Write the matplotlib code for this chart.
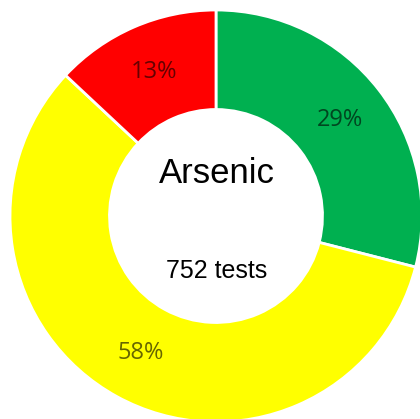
import matplotlib
matplotlib.use("Agg")
import matplotlib.pyplot as plt

# data
labels = ["Pass", "Warning", "Fail"]
counts = [218, 436, 98]
colors = ["#00B050", "#FFFF00", "#FF0000"]
title = "Arsenic"
total_label = "752 tests"

fig = plt.figure(figsize=(4.2, 4.19), dpi=100)
ax = fig.add_axes([0, 0, 1, 1])

wedges, texts, autotexts = ax.pie(
    counts, colors=colors, startangle=90, counterclock=False,
    radius=1.0, autopct="%1.0f%%", pctdistance=0.76,
    wedgeprops=dict(width=0.483, edgecolor="white", linewidth=2),
    textprops=dict(fontsize=17, family="Open Sans", color="black", alpha=0.6),
)

ax.text(0.005, 0.204, title, ha="center", va="center", fontsize=25, family="Liberation Sans")
ax.text(0.005, -0.267, total_label, ha="center", va="center", fontsize=18, family="Liberation Sans")

# pie centre at about (216, 216) px, radius about 206 px
ax.set_xlim(-216 / 206, (420 - 216) / 206)
ax.set_ylim(-(419 - 216) / 206, 216 / 206)
ax.set_aspect("auto")
ax.axis("off")

fig.savefig("out.png", dpi=100)
